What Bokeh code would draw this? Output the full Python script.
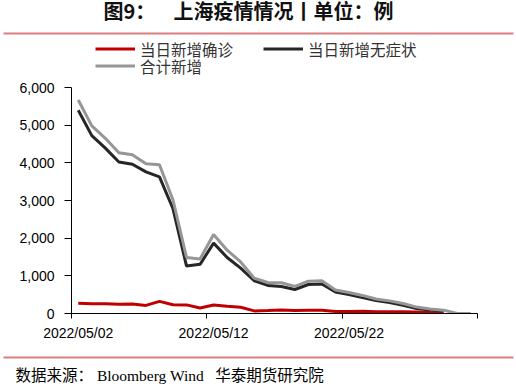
from datetime import datetime, timedelta

from bokeh.plotting import figure
from bokeh.layouts import column
from bokeh.models import (Range1d, FixedTicker, NumeralTickFormatter, DatetimeTickFormatter,
                          Legend, LegendItem, Label, ColumnDataSource)
from bokeh.embed import file_html
from bokeh.resources import INLINE

# ---------------- data ----------------
dates = ["2022/05/02", "2022/05/03", "2022/05/04", "2022/05/05", "2022/05/06",
         "2022/05/07", "2022/05/08", "2022/05/09", "2022/05/10", "2022/05/11",
         "2022/05/12", "2022/05/13", "2022/05/14", "2022/05/15", "2022/05/16",
         "2022/05/17", "2022/05/18", "2022/05/19", "2022/05/20", "2022/05/21",
         "2022/05/22", "2022/05/23", "2022/05/24", "2022/05/25", "2022/05/26",
         "2022/05/27", "2022/05/28", "2022/05/29", "2022/05/30", "2022/05/31"]
# 当日新增确诊 (reported through 05/29)
confirmed = [274, 260, 261, 245, 253, 215, 322, 234, 228, 144,
             227, 194, 166, 69, 77, 96, 82, 88, 84, 52,
             55, 58, 44, 45, 48, 39, 29, 22]
# 当日新增无症状 (reported through 05/29)
asymptomatic = [5395, 4722, 4390, 4024, 3961, 3760, 3625, 2780, 1259, 1305,
                1869, 1487, 1203, 869, 746, 719, 637, 770, 784, 570,
                503, 422, 343, 290, 219, 131, 93, 67]
# 合计新增
total = [5669, 4982, 4651, 4269, 4214, 3975, 3947, 3014, 1487, 1449,
         2096, 1681, 1369, 938, 823, 815, 719, 858, 868, 622,
         558, 480, 387, 335, 267, 170, 122, 89, 0, 0]

y_ticks = [0, 1000, 2000, 3000, 4000, 5000, 6000]
x_label_dates = ["2022/05/02", "2022/05/12", "2022/05/22"]

series_names = ["当日新增确诊", "当日新增无症状", "合计新增"]
series_colors = ["#c00000", "#262626", "#969696"]
NBSP = "\u00a0"
title_text = "图9：" + NBSP * 4 + "上海疫情情况丨单位：例"
source_text = "数据来源：" + NBSP + "Bloomberg Wind" + NBSP * 3 + "华泰期货研究院"

RULE_COLOR = "#dc7f80"
W = 516
HEAD_H, MAIN_H = 80, 265
FOOT_H = 392 - HEAD_H - MAIN_H

# ---------------- helpers ----------------
EPOCH = datetime(1970, 1, 1)
NAN = float("nan")


def to_dt(s):
    return datetime.strptime(s, "%Y/%m/%d")


def ms(d):
    return (d - EPOCH).total_seconds() * 1000.0


def bare_figure(height, y_top):
    """A decoration strip whose frame covers the whole canvas (page-pixel coords)."""
    f = figure(width=W, height=height, x_range=Range1d(0, W),
               y_range=Range1d(y_top + height, y_top),
               x_axis_location=None, y_axis_location=None,
               output_backend="svg", toolbar_location=None,
               min_border=0, min_border_left=0, min_border_right=0,
               min_border_top=0, min_border_bottom=0)
    f.frame_align = False
    f.outline_line_color = None
    f.xgrid.visible = False
    f.ygrid.visible = False
    f.background_fill_color = "white"
    f.border_fill_color = "white"
    return f


half_day = timedelta(hours=12)
dt_all = [to_dt(d) for d in dates]

src_full = ColumnDataSource(dict(x=dt_all, total=total))
src_part = ColumnDataSource(dict(x=dt_all[:len(confirmed)],
                                 confirmed=confirmed, asym=asymptomatic))

# ---------------- main chart ----------------
p = figure(width=W, height=MAIN_H, title=None,
           x_axis_type="datetime",
           x_range=Range1d(dt_all[0] - half_day, dt_all[-1] + half_day),
           y_range=Range1d(0, 6000),
           output_backend="svg", toolbar_location=None,
           min_border_left=71, min_border_right=39,
           min_border_top=7, min_border_bottom=MAIN_H - 7 - 226)
p.frame_align = False
p.outline_line_color = None
p.xgrid.visible = False
p.ygrid.visible = False
p.background_fill_color = "white"
p.border_fill_color = "white"

p.line(x="x", y="confirmed", source=src_part, line_color=series_colors[0], line_width=3)
p.line(x="x", y="asym", source=src_part, line_color=series_colors[1], line_width=3)
p.line(x="x", y="total", source=src_full, line_color=series_colors[2], line_width=3)

label_dts = [to_dt(d) for d in x_label_dates]
xa = p.xaxis[0]
xa.ticker = FixedTicker(ticks=[ms(d) for d in label_dts],
                        minor_ticks=[ms(d - half_day) for d in label_dts]
                        + [ms(dt_all[-1] + half_day)])
fmt = "%Y/%m/%d"
xa.formatter = DatetimeTickFormatter(microseconds=fmt, milliseconds=fmt, seconds=fmt,
                                     minsec=fmt, minutes=fmt, hourmin=fmt, hours=fmt,
                                     days=fmt, months=fmt, years=fmt)
xa.major_tick_out = 0
xa.major_tick_in = 0
xa.minor_tick_out = 5
xa.minor_tick_in = 0
xa.minor_tick_line_color = "black"
xa.axis_line_color = "black"
xa.major_label_standoff = 6
xa.major_label_text_font = "Liberation Sans"
xa.major_label_text_font_size = "14px"
xa.major_label_text_color = "black"

ya = p.yaxis[0]
ya.ticker = FixedTicker(ticks=y_ticks, minor_ticks=[])
ya.formatter = NumeralTickFormatter(format="0,0")
ya.major_tick_out = 7
ya.major_tick_in = 0
ya.minor_tick_out = 0
ya.minor_tick_in = 0
ya.axis_line_color = "black"
ya.major_label_standoff = 10
ya.major_label_text_font = "Liberation Sans"
ya.major_label_text_font_size = "14px"
ya.major_label_text_color = "black"

# ---------------- header: title, rule, legend ----------------
head = bare_figure(HEAD_H, 0)
head.add_layout(Label(x=103, y=10, text=title_text, text_font="Noto Sans CJK SC",
                      text_font_style="bold", text_font_size="20px",
                      text_color="#111111", text_baseline="middle", text_align="left"))
head.segment(x0=[3], y0=[33], x1=[513], y1=[33], line_color=RULE_COLOR, line_width=2)

# legend swatches: renderers with a single NaN point (nothing drawn in the frame)
swatch_src = ColumnDataSource(dict(x=[NAN], y=[NAN]))
swatches = [head.line(x="x", y="y", source=swatch_src, line_color=c, line_width=3)
            for c in series_colors]

leg_common = dict(orientation="horizontal", padding=0, margin=0, spacing=30,
                  glyph_width=40, glyph_height=17, label_height=17, label_standoff=5,
                  label_text_font="Noto Sans CJK SC", label_text_font_size="15.5px",
                  label_text_color="#333333", border_line_alpha=0,
                  background_fill_alpha=0)
leg1 = Legend(items=[LegendItem(label=series_names[0], renderers=[swatches[0]]),
                     LegendItem(label=series_names[1], renderers=[swatches[1]])],
              location=(95, HEAD_H - 59.5), **leg_common)
leg2 = Legend(items=[LegendItem(label=series_names[2], renderers=[swatches[2]])],
              location=(95, HEAD_H - 76.5), **leg_common)
head.add_layout(leg1)
head.add_layout(leg2)

# ---------------- footer: rule and source ----------------
foot_top = HEAD_H + MAIN_H
foot = bare_figure(FOOT_H, foot_top)
foot.segment(x0=[3], y0=[357], x1=[513], y1=[357], line_color=RULE_COLOR, line_width=2)
foot.add_layout(Label(x=15, y=375, text=source_text,
                      text_font="Liberation Serif, Noto Sans CJK SC",
                      text_font_size="15.5px", text_color="black",
                      text_baseline="middle", text_align="left"))

layout = column(head, p, foot, spacing=0)
open("out.html", "w").write(file_html(layout, INLINE))
